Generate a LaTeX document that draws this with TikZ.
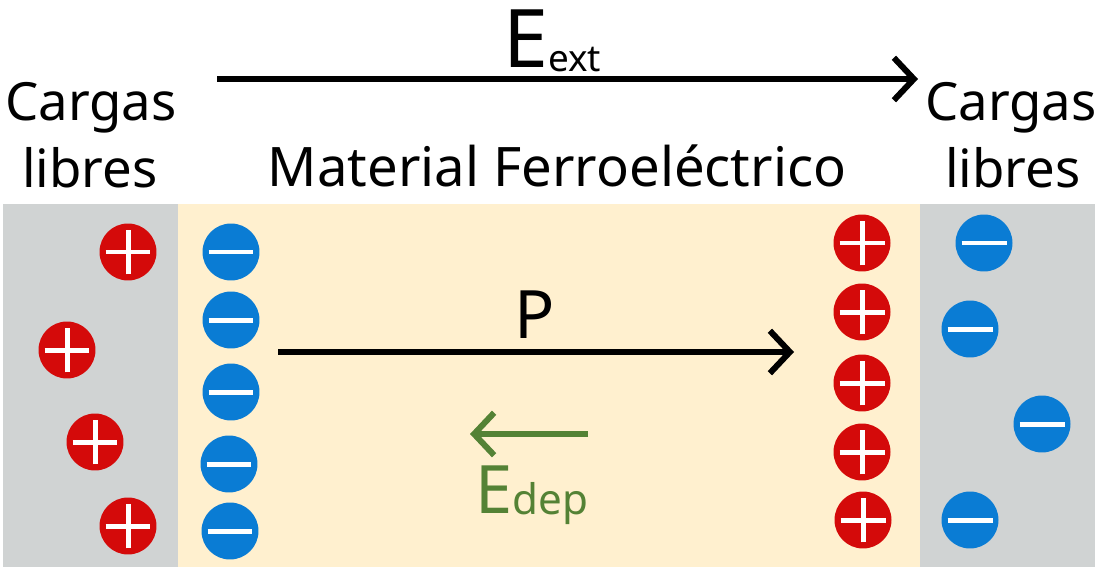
\documentclass[tikz,border=0pt]{standalone}
\usepackage{fontspec}
\setmainfont{Noto Sans}
\usetikzlibrary{arrows.meta}
\definecolor{grayreg}{RGB}{208,211,211}
\definecolor{yellowreg}{RGB}{255,240,207}
\definecolor{chred}{RGB}{212,10,10}
\definecolor{chblue}{RGB}{10,124,212}
\definecolor{fieldgreen}{RGB}{84,130,53}
\tikzset{
  chargebase/.style={circle,inner sep=0pt,minimum size=1.14cm,draw=none},
  poscharge/.style={chargebase,fill=chred,
    path picture={
      \draw[white,line width=0.1cm,line cap=butt]
        ([xshift=-0.45cm]path picture bounding box.center) -- ([xshift=0.45cm]path picture bounding box.center);
      \draw[white,line width=0.1cm,line cap=butt]
        ([yshift=-0.45cm]path picture bounding box.center) -- ([yshift=0.45cm]path picture bounding box.center);
    }},
  negcharge/.style={chargebase,fill=chblue,
    path picture={
      \draw[white,line width=0.1cm,line cap=butt]
        ([xshift=-0.45cm]path picture bounding box.center) -- ([xshift=0.45cm]path picture bounding box.center);
    }},
  fieldarrow/.style={line width=0.12cm,-{Straight Barb[length=0.4cm,width=0.85cm,line width=0.12cm]}},
  bigtext/.style={font=\fontsize{30}{36}\selectfont,inner sep=0pt,anchor=base},
}
\begin{document}
\begin{tikzpicture}[x=0.02cm,y=-0.02cm]
\useasboundingbox (0,0) rectangle (1103,571);
% regions
\fill[grayreg] (3,204) rectangle (178,567);
\fill[yellowreg] (178,204) rectangle (920,567);
\fill[grayreg] (920,204) rectangle (1095,567);
% labels
\node[bigtext] (cl1) at (91,121) {Cargas};
\node[bigtext] (cl2) at (90,188) {libres};
\node[bigtext] (cr1) at (1011,121) {Cargas};
\node[bigtext] (cr2) at (1013,188) {libres};
\node[bigtext,font=\fontsize{31}{37}\selectfont] (mat) at (557,187) {Material Ferroeléctrico};
% E ext
\node[inner sep=0pt,anchor=base west] (eext) at (503,68)
  {\fontsize{46}{52}\selectfont E\raisebox{-2pt}{\fontsize{21}{25}\selectfont ext}};
\coordinate (ea) at (217,79);
\coordinate (eb) at (918,79);
\draw[fieldarrow] (ea) -- (eb);
% P
\node[inner sep=0pt,anchor=base] (plabel) at (535,338) {\fontsize{38}{44}\selectfont P};
\coordinate (pa) at (278,352);
\coordinate (pb) at (794,352);
\draw[fieldarrow] (pa) -- (pb);
% E dep
\node[inner sep=0pt,anchor=base west,text=fieldgreen] (edep) at (475,513)
  {\fontsize{38}{44}\selectfont E\raisebox{-1pt}{\fontsize{24}{28}\selectfont dep}};
\coordinate (da) at (588,434);
\coordinate (db) at (470,434);
\draw[fieldarrow,fieldgreen] (da) -- (db);
% left free charges
\node[poscharge] (lp1) at (128,252) {};
\node[poscharge] (lp2) at (67,350) {};
\node[poscharge] (lp3) at (95,442) {};
\node[poscharge] (lp4) at (128,526) {};
% left bound charges
\node[negcharge] (ln1) at (231,252) {};
\node[negcharge] (ln2) at (231,320) {};
\node[negcharge] (ln3) at (231,392) {};
\node[negcharge] (ln4) at (229,464) {};
\node[negcharge] (ln5) at (230,531) {};
% right bound charges
\node[poscharge] (rp1) at (862,243) {};
\node[poscharge] (rp2) at (862,312) {};
\node[poscharge] (rp3) at (862,383) {};
\node[poscharge] (rp4) at (862,452) {};
\node[poscharge] (rp5) at (863,520) {};
% right free charges
\node[negcharge] (rn1) at (984,243) {};
\node[negcharge] (rn2) at (970,329) {};
\node[negcharge] (rn3) at (1042,424) {};
\node[negcharge] (rn4) at (970,520) {};
\end{tikzpicture}
\end{document}
